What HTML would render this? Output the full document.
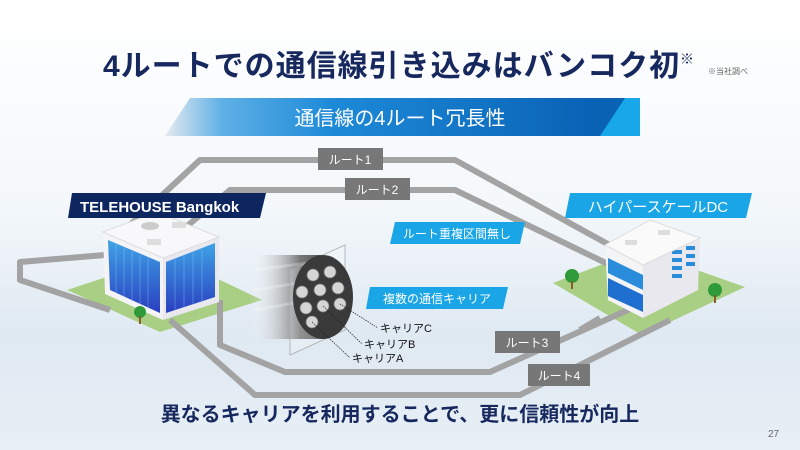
<!DOCTYPE html>
<html><head><meta charset="utf-8"><style>
html,body{margin:0;padding:0;width:800px;height:450px;overflow:hidden}
body{font-family:"Liberation Sans","Noto Sans CJK JP",sans-serif}
</style></head><body>
<svg width="800" height="450" viewBox="0 0 800 450" xmlns="http://www.w3.org/2000/svg" font-family="Liberation Sans, Noto Sans CJK JP, sans-serif">
<defs>
<linearGradient id="bg" x1="0" y1="0" x2="0" y2="1">
<stop offset="0" stop-color="#ffffff"/><stop offset="0.45" stop-color="#f4f8fb"/><stop offset="0.75" stop-color="#dfe9f2"/><stop offset="1" stop-color="#e8eff6"/></linearGradient>
<linearGradient id="ban" x1="0" y1="0" x2="1" y2="0">
<stop offset="0" stop-color="#e6ebf0"/><stop offset="0.12" stop-color="#5fb0e6"/><stop offset="0.35" stop-color="#1d8ad8"/><stop offset="0.9" stop-color="#0a62b5"/><stop offset="1" stop-color="#0a62b5"/></linearGradient>
<linearGradient id="cab" x1="0" y1="0" x2="1" y2="0">
<stop offset="0" stop-color="#ffffff" stop-opacity="0"/><stop offset="0.5" stop-color="#777"/><stop offset="1" stop-color="#2a2a2a"/></linearGradient>
<linearGradient id="win" x1="0" y1="0" x2="0" y2="1">
<stop offset="0" stop-color="#3fa2e6"/><stop offset="1" stop-color="#2a3fc0"/></linearGradient>
</defs>
<rect width="800" height="450" fill="url(#bg)"/>

<text x="103" y="76" font-size="30" font-weight="bold" fill="#16285e" letter-spacing="1">4ルートでの通信線引き込みはバンコク初</text>
<text x="680" y="64" font-size="14" fill="#16285e">※</text>
<text x="708" y="74" font-size="8" fill="#666">※当社調べ</text>

<polygon points="190,98 640,98 615,136 165,136" fill="url(#ban)"/>
<polygon points="625,98 640,98 640,136 600,136" fill="#18a8ea"/>
<text x="400" y="125" font-size="20" fill="#fff" text-anchor="middle">通信線の4ルート冗長性</text>

<polygon points="67,290 170,256 262,300 160,332" fill="#a9cf85"/>
<polygon points="553,283 640,250 745,287 642,335" fill="#a9cf85"/>

<g fill="none" stroke="#a3a3a3" stroke-width="6" stroke-linejoin="round">
<polyline points="130,225 200,160 455,160 615,248"/>
<polyline points="180,232 230,190 455,190 610,265"/>
<polyline points="105,255 20,262 20,280 110,310"/>
<polyline points="220,300 220,345 285,372 490,372 650,300"/>
<polyline points="170,320 255,395 520,395 670,320"/>
<polyline points="580,330 600,318"/>
</g>

<polygon points="103,232 105,294 163,320 163,258" fill="#f4f4f6"/>
<polygon points="163,258 163,320 219,302 219,237" fill="#e8e8ee"/>
<polygon points="108,240 110,290 160,313 160,262" fill="url(#win)"/>
<polygon points="166,262 166,313 215,297 215,243" fill="url(#win)"/>
<g stroke="#8fd0ff" stroke-width="0.6" opacity="0.6">
<line x1="116" y1="244" x2="116" y2="294"/><line x1="124" y1="248" x2="124" y2="298"/><line x1="132" y1="251" x2="132" y2="302"/><line x1="140" y1="255" x2="140" y2="305"/><line x1="148" y1="258" x2="148" y2="309"/>
<line x1="175" y1="259" x2="175" y2="311"/><line x1="184" y1="256" x2="184" y2="308"/><line x1="193" y1="252" x2="193" y2="305"/><line x1="202" y1="249" x2="202" y2="302"/>
</g>
<polygon points="103,232 157,212 219,237 163,258" fill="#f8f8fa" stroke="#ddd"/>
<ellipse cx="150" cy="226" rx="9" ry="4" fill="#ccc"/>
<rect x="172" y="222" width="14" height="6" fill="#ddd"/>
<rect x="147" y="239" width="14" height="6" fill="#ddd"/>
<circle cx="140" cy="312" r="6" fill="#2e9a3a"/><rect x="139" y="316" width="2" height="8" fill="#8a5a2a"/>

<polygon points="605,245 608,300 643,318 643,265" fill="#f4f4f6"/>
<polygon points="608,258 643,275 643,290 608,273" fill="#2a8ddc"/>
<polygon points="608,278 643,295 643,312 608,296" fill="#1f6fd0"/>
<polygon points="643,265 643,318 698,290 700,238" fill="#e8e8ee"/>
<g fill="#2a8ddc"><rect x="672" y="250" width="10" height="4"/><rect x="672" y="258" width="10" height="4"/><rect x="672" y="266" width="10" height="4"/><rect x="672" y="274" width="10" height="4"/><rect x="686" y="246" width="9" height="4"/><rect x="686" y="254" width="9" height="4"/><rect x="686" y="262" width="9" height="4"/></g>
<polygon points="605,245 650,220 700,238 643,265" fill="#fafafa" stroke="#ddd"/>
<rect x="625" y="240" width="12" height="5" fill="#ddd"/><rect x="658" y="230" width="12" height="5" fill="#ddd"/>
<circle cx="572" cy="276" r="7" fill="#2e9a3a"/><rect x="571" y="281" width="2" height="8" fill="#8a5a2a"/>
<circle cx="715" cy="290" r="7" fill="#2e9a3a"/><rect x="714" y="295" width="2" height="8" fill="#8a5a2a"/>

<path d="M250,255 L320,255 A30,42 0 0 1 320,339 L250,339 Z" fill="url(#cab)"/>
<g stroke="#fff" stroke-opacity="0.25" stroke-width="3"><line x1="255" y1="270" x2="315" y2="262"/><line x1="255" y1="290" x2="305" y2="282"/><line x1="255" y1="310" x2="300" y2="302"/></g>
<polygon points="290,270 345,245 345,330 290,355" fill="#fff" fill-opacity="0.2" stroke="#aaa" stroke-width="0.8"/>
<ellipse cx="323" cy="297" rx="30" ry="42" fill="#3a3a3a"/>
<g fill="#d5d5d5" stroke="#777" stroke-width="0.8">
<circle cx="313" cy="275" r="6"/><circle cx="330" cy="272" r="6"/><circle cx="302" cy="292" r="6"/><circle cx="320" cy="290" r="6"/><circle cx="338" cy="288" r="6"/><circle cx="306" cy="308" r="6"/><circle cx="323" cy="306" r="6"/><circle cx="340" cy="304" r="6"/><circle cx="312" cy="322" r="6"/>
</g>
<g stroke="#222" stroke-width="0.7" stroke-dasharray="1.5,1">
<line x1="340" y1="304" x2="378" y2="328"/><line x1="323" y1="306" x2="362" y2="344"/><line x1="312" y1="322" x2="350" y2="358"/></g>
<g font-size="11" fill="#111"><text x="380" y="332">キャリアC</text><text x="364" y="348">キャリアB</text><text x="352" y="362">キャリアA</text></g>

<rect x="318" y="148" width="65" height="22" fill="#777"/><text x="350" y="164" font-size="12" fill="#fff" text-anchor="middle">ルート1</text>
<rect x="345" y="178" width="65" height="22" fill="#777"/><text x="377" y="194" font-size="12" fill="#fff" text-anchor="middle">ルート2</text>
<rect x="495" y="331" width="65" height="22" fill="#777"/><text x="527" y="347" font-size="12" fill="#fff" text-anchor="middle">ルート3</text>
<rect x="528" y="364" width="62" height="22" fill="#777"/><text x="559" y="380" font-size="12" fill="#fff" text-anchor="middle">ルート4</text>
<polygon points="72,193 266,193 260,218 68,218" fill="#0d2660"/>
<text x="80" y="212" font-size="15" font-weight="bold" fill="#fff">TELEHOUSE Bangkok</text>
<polygon points="570,193 752,193 746,218 565,218" fill="#1aa6e6"/>
<text x="658" y="212" font-size="15" fill="#fff" text-anchor="middle">ハイパースケールDC</text>
<polygon points="395,222 525,222 520,244 390,244" fill="#1aa6e6"/>
<text x="457" y="238" font-size="12" fill="#fff" text-anchor="middle">ルート重複区間無し</text>
<polygon points="370,287 508,287 503,309 366,309" fill="#1aa6e6"/>
<text x="437" y="303" font-size="12" fill="#fff" text-anchor="middle">複数の通信キャリア</text>

<text x="400" y="421" font-size="20" font-weight="bold" fill="#16285e" text-anchor="middle">異なるキャリアを利用することで、更に信頼性が向上</text>
<text x="768" y="437" font-size="10" fill="#666">27</text>
</svg>
</body></html>
